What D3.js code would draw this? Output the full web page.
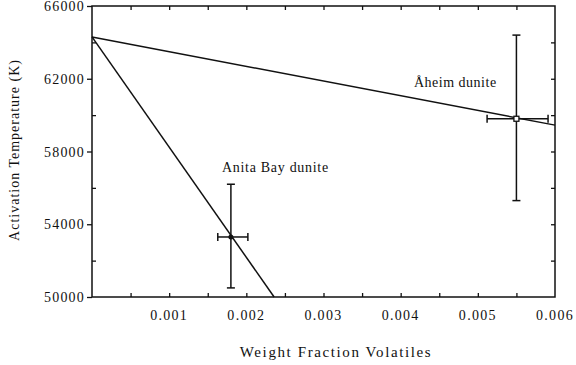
<!DOCTYPE html>
<html>
<head>
<meta charset="utf-8">
<script src="https://cdn.jsdelivr.net/npm/d3@7"></script>
<style>
body { margin: 0; background: #fff; }
svg text { font-family: "Liberation Serif", "DejaVu Serif", serif; fill: #111; }
</style>
</head>
<body>
<svg id="chart" width="576" height="365"></svg>
<script>
// data
var samples = ["Anita Bay dunite", "Åheim dunite"];
var sampleX = [0.0018, 0.0055];
var sampleY = [53300, 59800];
var xErrLo = [0.00163, 0.00512];
var xErrHi = [0.00202, 0.00591];
var yErrLo = [50500, 55300];
var yErrHi = [56200, 64400];
var anitaLineX = [0, 0.00236];
var anitaLineY = [64300, 50000];
var aheimLineX = [0, 0.006];
var aheimLineY = [64300, 59450];
var xTicks = [0.001, 0.002, 0.003, 0.004, 0.005, 0.006];
var yTicks = [50000, 54000, 58000, 62000, 66000];

var svg = d3.select("#chart");
var plotL = 92, plotR = 555, plotT = 6, plotB = 297;

var x = d3.scaleLinear().domain([0, 0.006]).range([plotL, plotR]);
var y = d3.scaleLinear().domain([50000, 66000]).range([plotB, plotT]);

// frame
svg.append("rect")
  .attr("x", plotL).attr("y", plotT)
  .attr("width", plotR - plotL).attr("height", plotB - plotT)
  .attr("fill", "none").attr("stroke", "#111").attr("stroke-width", 1.5);

// bottom and top axes, ticks point in
var xMinor = d3.range(0.0005, 0.006, 0.0005);
svg.append("g").attr("transform", "translate(0," + plotB + ")")
  .call(d3.axisBottom(x).tickValues(xMinor).tickSize(-4).tickFormat(""));
svg.append("g").attr("transform", "translate(0," + plotT + ")")
  .call(d3.axisTop(x).tickValues(xMinor).tickSize(-4).tickFormat(""));

svg.selectAll(".xlab").data(xTicks).enter().append("text")
  .attr("x", function(d) { return x(d); })
  .attr("y", 320)
  .attr("text-anchor", "middle")
  .style("font-size", "14px")
  .style("letter-spacing", "1.3px")
  .text(function(d) { return d3.format(".3f")(d); });

// left and right axes
var yMinor = d3.range(52000, 66000, 4000);
svg.append("g").attr("transform", "translate(" + plotL + ",0)")
  .call(d3.axisLeft(y).tickValues(yTicks).tickSize(5).tickFormat(""));
svg.append("g").attr("transform", "translate(" + plotL + ",0)")
  .call(d3.axisLeft(y).tickValues(yMinor).tickSize(-4).tickFormat(""));
svg.append("g").attr("transform", "translate(" + plotR + ",0)")
  .call(d3.axisRight(y).tickValues(d3.range(52000, 66000, 2000)).tickSize(-4).tickFormat(""));

svg.selectAll(".ylab").data(yTicks).enter().append("text")
  .attr("x", 85)
  .attr("y", function(d) { return y(d) + 5; })
  .attr("text-anchor", "end")
  .style("font-size", "14px")
  .style("letter-spacing", "1.2px")
  .text(function(d) { return d; });

svg.selectAll(".domain").remove();
svg.selectAll(".tick line").attr("stroke", "#111").attr("stroke-width", 1.3);

// axis titles
svg.append("text")
  .attr("x", 336).attr("y", 357)
  .attr("text-anchor", "middle")
  .style("font-size", "15px")
  .style("letter-spacing", "1.6px")
  .text("Weight Fraction Volatiles");

svg.append("text")
  .attr("transform", "translate(19,150) rotate(-90)")
  .attr("text-anchor", "middle")
  .style("font-size", "14px")
  .style("letter-spacing", "1px")
  .text("Activation Temperature (K)");

// fitted lines
var line = d3.line()
  .x(function(d) { return x(d[0]); })
  .y(function(d) { return y(d[1]); });

svg.append("path")
  .attr("d", line(d3.zip(aheimLineX, aheimLineY)))
  .attr("fill", "none").attr("stroke", "#111").attr("stroke-width", 1.5);
svg.append("path")
  .attr("d", line(d3.zip(anitaLineX, anitaLineY)))
  .attr("fill", "none").attr("stroke", "#111").attr("stroke-width", 1.5);

// error bars
var cap = 4;
sampleX.forEach(function(d, i) {
  var g = svg.append("g").attr("stroke", "#111").attr("stroke-width", 1.5);
  g.append("line").attr("x1", x(d)).attr("x2", x(d))
    .attr("y1", y(yErrLo[i])).attr("y2", y(yErrHi[i]));
  g.append("line").attr("x1", x(d) - cap).attr("x2", x(d) + cap)
    .attr("y1", y(yErrLo[i])).attr("y2", y(yErrLo[i]));
  g.append("line").attr("x1", x(d) - cap).attr("x2", x(d) + cap)
    .attr("y1", y(yErrHi[i])).attr("y2", y(yErrHi[i]));
  g.append("line").attr("x1", x(xErrLo[i])).attr("x2", x(xErrHi[i]))
    .attr("y1", y(sampleY[i])).attr("y2", y(sampleY[i]));
  g.append("line").attr("x1", x(xErrLo[i])).attr("x2", x(xErrLo[i]))
    .attr("y1", y(sampleY[i]) - cap).attr("y2", y(sampleY[i]) + cap);
  g.append("line").attr("x1", x(xErrHi[i])).attr("x2", x(xErrHi[i]))
    .attr("y1", y(sampleY[i]) - cap).attr("y2", y(sampleY[i]) + cap);
});

// markers
svg.append("circle")
  .attr("cx", x(sampleX[0])).attr("cy", y(sampleY[0])).attr("r", 2.5)
  .attr("fill", "#111");
svg.append("rect")
  .attr("x", x(sampleX[1]) - 2.5).attr("y", y(sampleY[1]) - 2.5)
  .attr("width", 5).attr("height", 5)
  .attr("fill", "#fff").attr("stroke", "#111").attr("stroke-width", 1.3);

// sample labels
svg.append("text").attr("x", 222).attr("y", 172)
  .style("font-size", "14px").style("letter-spacing", "0.7px").text(samples[0]);
svg.append("text").attr("x", 414).attr("y", 87)
  .style("font-size", "14px").style("letter-spacing", "0.5px").text(samples[1]);
</script>
</body>
</html>
